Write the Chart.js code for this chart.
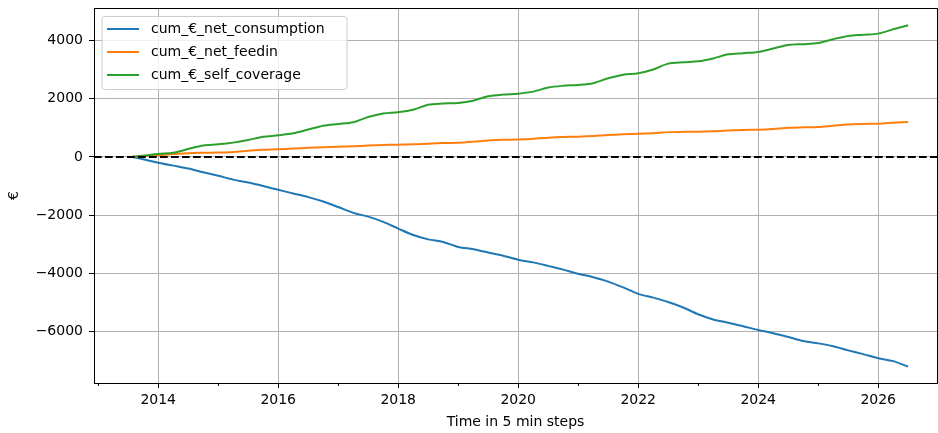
<!DOCTYPE html>
<html>
<head>
<meta charset="utf-8">
<script src="https://cdn.jsdelivr.net/npm/chart.js@4"></script>
<style>
  html, body { margin: 0; padding: 0; background: #fff; }
</style>
</head>
<body>
<canvas id="chart" width="938" height="433"></canvas>
<script>
// decimal years (x) and cumulative euro values
const years = [2013.55, 2013.75,
    2014.0, 2014.25, 2014.5, 2014.75, 2015.0, 2015.25, 2015.5, 2015.75,
    2016.0, 2016.25, 2016.5, 2016.75, 2017.0, 2017.25, 2017.5, 2017.75,
    2018.0, 2018.25, 2018.5, 2018.75, 2019.0, 2019.25, 2019.5, 2019.75,
    2020.0, 2020.25, 2020.5, 2020.75, 2021.0, 2021.25, 2021.5, 2021.75,
    2022.0, 2022.25, 2022.5, 2022.75, 2023.0, 2023.25, 2023.5, 2023.75,
    2024.0, 2024.25, 2024.5, 2024.75, 2025.0, 2025.25, 2025.5, 2025.75,
    2026.0, 2026.25, 2026.5]

const netConsumption = [0, -80,
    -200, -300, -400, -530, -650, -780, -880, -1000,
    -1130, -1255, -1380, -1530, -1720, -1920, -2050, -2230,
    -2460, -2680, -2830, -2920, -3090, -3170, -3280, -3390,
    -3530, -3620, -3740, -3870, -4010, -4130, -4280, -4480,
    -4700, -4830, -4980, -5170, -5400, -5580, -5690, -5810,
    -5940, -6050, -6180, -6320, -6400, -6500, -6640, -6770,
    -6910, -7010, -7200]

const netFeedin = [0, 30,
    60, 95, 125, 140, 150, 170, 210, 245,
    260, 285, 310, 330, 345, 365, 390, 410,
    420, 430, 455, 475, 485, 520, 565, 585,
    595, 620, 660, 685, 695, 715, 750, 775,
    790, 815, 850, 860, 865, 880, 905, 925,
    935, 960, 1000, 1015, 1025, 1070, 1115, 1130,
    1140, 1170, 1200]

const selfCoverage = [0, 40,
    100, 140, 270, 390, 430, 490, 580, 690,
    740, 810, 940, 1070, 1130, 1190, 1370, 1490,
    1535, 1620, 1790, 1830, 1850, 1930, 2080, 2140,
    2170, 2240, 2380, 2440, 2470, 2530, 2700, 2820,
    2870, 3000, 3200, 3250, 3280, 3380, 3520, 3560,
    3600, 3720, 3840, 3870, 3910, 4040, 4150, 4190,
    4230, 4380, 4520]

const seriesNames = ['cum_€_net_consumption', 'cum_€_net_feedin', 'cum_€_self_coverage']
const seriesColors = ['#1f77b4', '#ff7f0e', '#2ca02c']

const xRange = [2012.93, 2026.98]
const yRange = [-7760, 5110]
const xTickYears = [2013, 2014, 2015, 2016, 2017, 2018, 2019, 2020, 2021, 2022, 2023, 2024, 2025, 2026]
const yTicks = [-6000, -4000, -2000, 0, 2000, 4000]

const font = { family: 'DejaVu Sans', size: 14 }
const toPoints = vals => vals.map((v, i) => ({ x: years[i], y: v }))

const series = [netConsumption, netFeedin, selfCoverage].map((vals, i) => ({
    label: seriesNames[i],
    data: toPoints(vals),
    borderColor: seriesColors[i],
    borderWidth: 2,
    pointRadius: 0,
    tension: 0.3,
    order: 3 - i
}))

// zero line, like an axhline
const zeroLine = {
    label: 'zero',
    data: [{ x: xRange[0], y: 0 }, { x: xRange[1], y: 0 }],
    borderColor: '#000',
    borderWidth: 2,
    borderDash: [7.7, 3.3],
    pointRadius: 0,
    order: 0
}

const framePlugin = {
    id: 'frame',
    afterDraw(chart) {
        const ctx = chart.ctx
        const a = chart.chartArea
        const xs = chart.scales.x
        ctx.save()
        // minor ticks on odd years
        ctx.strokeStyle = '#000'
        ctx.lineWidth = 1
        xTickYears.filter(v => v % 2 !== 0).forEach(v => {
            const px = Math.round(xs.getPixelForValue(v)) + 0.5
            ctx.beginPath()
            ctx.moveTo(px, a.bottom)
            ctx.lineTo(px, a.bottom + 3)
            ctx.stroke()
        })
        // spines
        ctx.strokeRect(Math.round(a.left) + 0.5, Math.round(a.top) + 0.5,
            Math.round(a.right - a.left), Math.round(a.bottom - a.top))

        // legend box
        const lx = a.left + 8, ly = a.top + 8.5, lw = 245, lh = 73
        ctx.beginPath()
        ctx.roundRect(lx, ly, lw, lh, 3)
        ctx.fillStyle = 'rgba(255,255,255,0.8)'
        ctx.fill()
        ctx.strokeStyle = '#cccccc'
        ctx.stroke()
        ctx.font = font.size + 'px ' + font.family
        ctx.textBaseline = 'middle'
        series.forEach((s, i) => {
            const ry = ly + 12.5 + i * 23
            ctx.strokeStyle = s.borderColor
            ctx.lineWidth = 2
            ctx.beginPath()
            ctx.moveTo(lx + 5, ry)
            ctx.lineTo(lx + 37, ry)
            ctx.stroke()
            ctx.fillStyle = '#000'
            ctx.fillText(s.label, lx + 49, ry)
        })
        ctx.restore()
    }
}

new Chart(document.getElementById('chart'), {
    type: 'line',
    data: { datasets: [...series, zeroLine] },
    options: {
        responsive: false,
        animation: false,
        devicePixelRatio: 1,
        layout: { padding: { left: 0, top: 8, right: 1, bottom: 0 } },
        plugins: { legend: { display: false }, tooltip: { enabled: false } },
        scales: {
            x: {
                type: 'linear',
                min: xRange[0],
                max: xRange[1],
                afterBuildTicks: s => { s.ticks = xTickYears.map(v => ({ value: v })) },
                afterFit: s => { s.height = 50; s.paddingLeft = 0; s.paddingRight = 0 },
                grid: {
                    color: c => (c.tick && c.tick.value % 2 === 0) ? '#b0b0b0' : 'rgba(0,0,0,0)',
                    tickColor: c => (c.tick && c.tick.value % 2 === 0) ? '#000' : 'rgba(0,0,0,0)',
                    lineWidth: 1,
                    tickLength: 5
                },
                border: { color: '#000', width: 1 },
                ticks: {
                    color: '#000', font, padding: 4, maxRotation: 0, autoSkip: false,
                    callback: v => v % 2 === 0 ? String(v) : ''
                },
                title: { display: true, text: 'Time in 5 min steps', color: '#000', font, padding: { top: 0, bottom: 2 } }
            },
            y: {
                min: yRange[0],
                max: yRange[1],
                afterBuildTicks: s => { s.ticks = yTicks.map(v => ({ value: v })) },
                afterFit: s => { s.width = 94; s.paddingTop = 0; s.paddingBottom = 0 },
                grid: { color: '#b0b0b0', tickColor: '#000', lineWidth: 1, tickLength: 5 },
                border: { color: '#000', width: 1 },
                ticks: {
                    color: '#000', font, padding: 6,
                    callback: v => String(v).replace('-', '\u2212')
                },
                title: { display: true, text: '€', color: '#000', font, padding: { top: 6, bottom: 0 } }
            }
        }
    },
    plugins: [framePlugin]
})
</script>
</body>
</html>
